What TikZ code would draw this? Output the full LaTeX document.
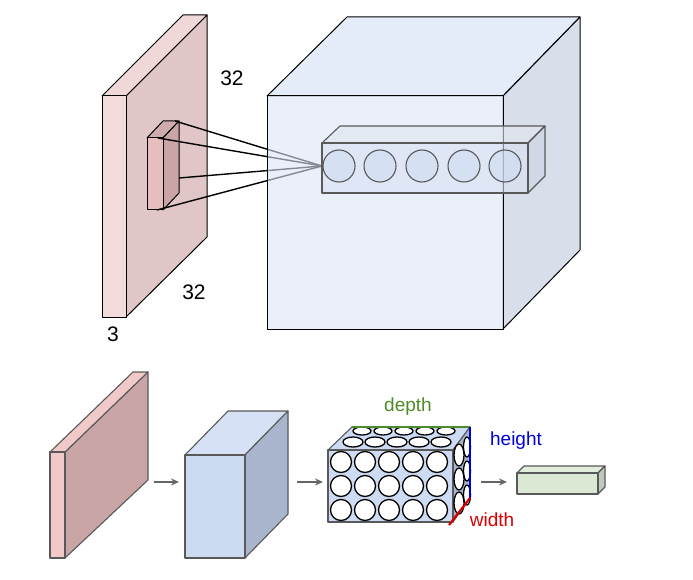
\documentclass[tikz,border=0pt]{standalone}
\usepackage{fontspec}
\setmainfont{Liberation Sans}
\usetikzlibrary{arrows.meta}

\definecolor{pinkFront}{HTML}{F5DCDC}
\definecolor{pinkFace}{HTML}{E0C6C6}
\definecolor{pinkDark}{HTML}{C9A5A5}
\definecolor{pinkSide}{HTML}{F2C9C9}
\definecolor{blueFace}{HTML}{DCE5F7}
\definecolor{blueSide}{HTML}{CBD4E4}
\definecolor{blueSmall}{HTML}{CCDAF2}
\definecolor{blueSmallSide}{HTML}{A9B5CC}
\definecolor{greenBox}{HTML}{DBE8D4}
\definecolor{depthGreen}{HTML}{4E8C2A}

\begin{document}
\begin{tikzpicture}[
        x=1pt, y=-1pt,
        face/.style={draw=black, line width=1pt, line join=round},
        softface/.style={draw=gray!70!black, line width=1.1pt, line join=round},
        ball/.style={draw=black, line width=1.3pt, fill=white},
        flow/.style={draw=gray!80!black, line width=1.3pt, -{Stealth[length=8pt, width=7pt]}},
        label/.style={font=\fontsize{21}{24}\selectfont, inner sep=0pt},
        dimlabel/.style={font=\fontsize{19}{22}\selectfont, inner sep=0pt}
    ]
    \useasboundingbox (0,0) rectangle (693,580);

    % Eingabebild oben
    \draw[face, fill=pinkFace] (126,96) -- (207,15) -- (207,237) -- (126,317) -- cycle;
    \draw[face, fill=pinkFront!80!pinkFace] (102,96) -- (183,15) -- (207,15) -- (126,96) -- cycle;
    \draw[face, fill=pinkFront] (102,96) rectangle (126,317);

    % Rezeptives Feld
    \draw[face, fill=pinkDark!80!pinkFace] (147,138) -- (163,121) -- (179,121) -- (163,138) -- cycle;
    \draw[face, fill=pinkDark] (163,138) -- (179,121) -- (179,193) -- (163,210) -- cycle;
    \draw[face, fill=pinkSide!70!pinkDark] (147,138) rectangle (163,210);

    \coordinate (focus) at (322,166);
    \foreach \px/\py in {175/121, 158/138, 179/178, 157/210}
        \draw[line width=1.4pt] (\px,\py) -- (focus);

    % Ausgabevolumen oben
    \draw[face, fill=blueFace, fill opacity=0.75] (267,96) -- (347,17) -- (580,17) -- (503,96) -- cycle;
    \draw[face, fill=blueSide, fill opacity=0.75] (503,96) -- (580,17) -- (580,250) -- (503,329) -- cycle;
    \draw[face, fill=blueFace, fill opacity=0.6] (267,96) rectangle (503,329);

    % Neuronensaeule
    \draw[softface, fill=blueSide!60, fill opacity=0.6] (322,143) -- (340,126) -- (545,126) -- (528,143) -- cycle;
    \draw[softface, fill=blueSide, fill opacity=0.6] (528,143) -- (545,126) -- (545,176) -- (528,193) -- cycle;
    \draw[softface, fill=blueFace!80!blueSide, fill opacity=0.6] (322,143) rectangle (528,193);
    \foreach \cx in {339,380,422,464,505}
        \draw[softface, fill=blueSmall, fill opacity=0.5] (\cx,166) circle (16);

    \node[label] (w32) at (232,78) {32};
    \node[label] (h32) at (194,292) {32};
    \node[label] (d3) at (113,334) {3};

    % Unten: Eingabe
    \draw[softface, fill=pinkDark] (65,452) -- (148,372) -- (148,480) -- (65,558) -- cycle;
    \draw[softface, fill=pinkSide] (50,452) -- (133,372) -- (148,372) -- (65,452) -- cycle;
    \draw[softface, fill=pinkSide] (50,452) rectangle (65,558);
    \coordinate (inR) at (154,482);

    % Unten: Faltungsvolumen
    \draw[softface, fill=blueSmall!80!white] (185,455) -- (228,411) -- (288,411) -- (245,455) -- cycle;
    \draw[softface, fill=blueSmallSide] (245,455) -- (288,411) -- (288,514) -- (245,558) -- cycle;
    \draw[softface, fill=blueSmall] (185,455) rectangle (245,558);
    \coordinate (convL) at (179,482);
    \coordinate (convR) at (297,482);

    % Unten: Neuronenvolumen
    \draw[softface, fill=blueSmall] (328,450) -- (352,427) -- (470,427) -- (453,450) -- cycle;
    \draw[softface, fill=blueSmallSide] (453,450) -- (470,427) -- (470,498) -- (453,522) -- cycle;
    \draw[softface, fill=blueSmall] (328,450) rectangle (453,522);
    \foreach \i in {0,...,4} {
        \foreach \j in {0,1,2}
            \draw[ball] (341+\i*24,462+\j*24) circle (10.5);
        \draw[ball] (362+\i*21,431) ellipse (9 and 4);
        \draw[ball] (353+\i*22,442) ellipse (10 and 5);
    }
    \foreach \j in {0,1,2} {
        \draw[ball] (467,447+\j*24) ellipse (3.5 and 10);
        \draw[ball] (459,455+\j*24) ellipse (5 and 11);
    }
    \draw[depthGreen, line width=2pt] (352,427) -- (470,427);
    \draw[blue!85!black, line width=2.2pt] (470,427) -- (470,498);
    \draw[red!85!black, line width=2.2pt] (470,498) -- (449,525);
    \coordinate (cellL) at (323,482);
    \coordinate (cellR) at (481,482);

    \node[dimlabel, text=depthGreen] (depth) at (408,407) {depth};
    \node[dimlabel, text=blue!85!black] (height) at (516,441) {height};
    \node[dimlabel, text=red!85!black] (width) at (492,520) {width};

    % Unten: Ausgabe
    \draw[softface, fill=greenBox!80!white] (517,473) -- (524,466) -- (605,466) -- (598,473) -- cycle;
    \draw[softface, fill=greenBox!70!gray] (598,473) -- (605,466) -- (605,487) -- (598,494) -- cycle;
    \draw[softface, fill=greenBox] (517,473) rectangle (598,494);
    \coordinate (outL) at (507,482);

    \draw[flow] (inR) -- (convL);
    \draw[flow] (convR) -- (cellL);
    \draw[flow] (cellR) -- (outL);
\end{tikzpicture}
\end{document}
